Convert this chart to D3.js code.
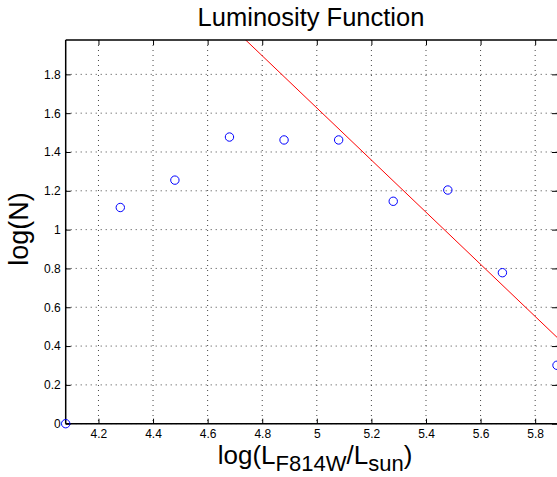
<!DOCTYPE html>
<html>
<head>
<meta charset="utf-8">
<script src="https://cdn.jsdelivr.net/npm/d3@7"></script>
<style>
  body { margin: 0; background: #fff; }
  svg { display: block; }
  text { font-family: "Liberation Sans", Arial, Helvetica, sans-serif; fill: #000; }
</style>
</head>
<body>
<svg id="chart" width="557" height="477"></svg>
<script>
// Luminosity function: log10 of counts per luminosity bin
const logL = [4.08, 4.28, 4.48, 4.68, 4.88, 5.08, 5.28, 5.48, 5.68, 5.88];
const logN = [0, 1.114, 1.255, 1.477, 1.462, 1.462, 1.146, 1.204, 0.778, 0.301];

// Linear fit to the bright end: logN = fitIntercept + fitSlope * logL
const fitSlope = -1.343;
const fitIntercept = 8.342;

const xTicks = [4.2, 4.4, 4.6, 4.8, 5.0, 5.2, 5.4, 5.6, 5.8];
const yTicks = [0, 0.2, 0.4, 0.6, 0.8, 1.0, 1.2, 1.4, 1.6, 1.8];
const xDomain = [4.08, 5.88];
const yDomain = [0, 1.977];

const svg = d3.select("#chart");
const plotL = 65.7, plotR = 557, plotT = 40, plotB = 423.7;

const x = d3.scaleLinear().domain(xDomain).range([plotL, plotR]);
const y = d3.scaleLinear().domain(yDomain).range([plotB, plotT]);

const fmt = d => String(+d.toFixed(1));

// dotted grid
const grid = svg.append("g");
grid.selectAll(".gx").data(xTicks).enter().append("line")
  .attr("x1", d => x(d)).attr("x2", d => x(d))
  .attr("y1", plotT).attr("y2", plotB)
  .attr("stroke", "#444").attr("stroke-width", 1)
  .attr("stroke-dasharray", "1,4");
grid.selectAll(".gy").data(yTicks).enter().append("line")
  .attr("x1", plotL).attr("x2", plotR)
  .attr("y1", d => y(d)).attr("y2", d => y(d))
  .attr("stroke", "#444").attr("stroke-width", 1)
  .attr("stroke-dasharray", "1,4");

// axes with inward ticks
const xAxis = svg.append("g").attr("transform", `translate(0,${plotB})`)
  .call(d3.axisBottom(x).tickValues(xTicks).tickSize(-5).tickPadding(6).tickFormat(fmt));
const xAxisTop = svg.append("g").attr("transform", `translate(0,${plotT})`)
  .call(d3.axisTop(x).tickValues(xTicks).tickSize(-5).tickFormat(""));
const yAxis = svg.append("g").attr("transform", `translate(${plotL},0)`)
  .call(d3.axisLeft(y).tickValues(yTicks).tickSize(-5).tickPadding(5).tickFormat(fmt));
const yAxisRight = svg.append("g").attr("transform", `translate(${plotR},0)`)
  .call(d3.axisRight(y).tickValues(yTicks).tickSize(-5).tickFormat(""));

[xAxis, xAxisTop, yAxis, yAxisRight].forEach(g => {
  g.select(".domain").remove();
  g.selectAll(".tick line").attr("stroke", "#000").attr("stroke-width", 1);
  g.selectAll("text").style("font-size", "12px").attr("fill", "#000");
});

// fitted line, clipped to the axes box
svg.append("clipPath").attr("id", "plotclip").append("rect")
  .attr("x", plotL).attr("y", plotT).attr("width", plotR - plotL).attr("height", plotB - plotT);
const fitLine = d3.line().x(d => x(d)).y(d => y(fitIntercept + fitSlope * d));
svg.append("path")
  .attr("clip-path", "url(#plotclip)")
  .attr("d", fitLine(xDomain))
  .attr("fill", "none").attr("stroke", "#ff0000").attr("stroke-width", 1);

// box edges
svg.append("line").attr("x1", plotL).attr("x2", plotR).attr("y1", plotT).attr("y2", plotT)
  .attr("stroke", "#000").attr("stroke-width", 1.5);
svg.append("line").attr("x1", plotL).attr("x2", plotR).attr("y1", plotB).attr("y2", plotB)
  .attr("stroke", "#000").attr("stroke-width", 1.5);
svg.append("line").attr("x1", plotL).attr("x2", plotL).attr("y1", plotT).attr("y2", plotB)
  .attr("stroke", "#000").attr("stroke-width", 1.5);

// data markers
svg.append("g").selectAll("circle").data(logL).enter().append("circle")
  .attr("cx", d => x(d)).attr("cy", (d, i) => y(logN[i])).attr("r", 4.2)
  .attr("fill", "none").attr("stroke", "#0000ff").attr("stroke-width", 1);

// title and axis labels
svg.append("text").attr("x", 311).attr("y", 26).attr("text-anchor", "middle")
  .style("font-size", "25.5px").text("Luminosity Function");

svg.append("text").attr("transform", `translate(28,229) rotate(-90)`)
  .attr("text-anchor", "middle").style("font-size", "27px").text("log(N)");

const xl = svg.append("text").attr("x", 315).attr("y", 464).attr("text-anchor", "middle")
  .style("font-size", "26px");
xl.append("tspan").text("log(L");
xl.append("tspan").attr("dy", 7).style("font-size", "22px").text("F814W");
xl.append("tspan").attr("dy", -7).text("/L");
xl.append("tspan").attr("dy", 7).style("font-size", "22px").text("sun");
xl.append("tspan").attr("dy", -7).text(")");
</script>
</body>
</html>
